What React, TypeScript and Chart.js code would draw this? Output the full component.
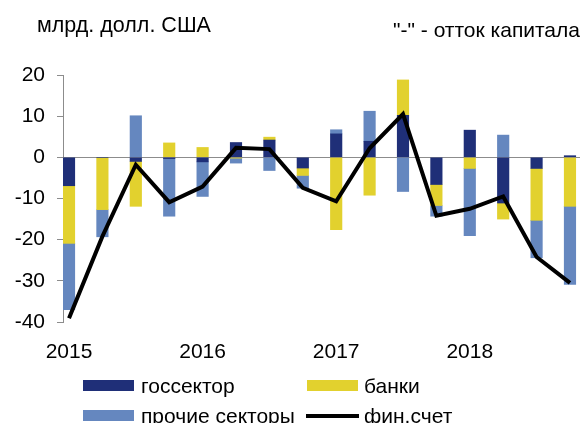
import React, { useEffect, useRef } from 'react';
import { Chart, registerables } from 'chart.js';

Chart.register(...registerables);

const quarters = [
  'I кв. 2015', 'II кв. 2015', 'III кв. 2015', 'IV кв. 2015',
  'I кв. 2016', 'II кв. 2016', 'III кв. 2016', 'IV кв. 2016',
  'I кв. 2017', 'II кв. 2017', 'III кв. 2017', 'IV кв. 2017',
  'I кв. 2018', 'II кв. 2018', 'III кв. 2018', 'IV кв. 2018',
];
const yearLabels = ['2015', '2016', '2017', '2018'];
const gosSector = [-6.9, 0, -1.0, -0.3, -1.1, 3.6, 4.2, -2.6, 5.7, 3.9, 10.2, -6.6, 6.6, -11.1, -2.7, 0.4];
const banks = [-14.0, -12.7, -10.9, 3.5, 2.4, -0.2, 0.7, -1.8, -17.6, -9.2, 8.6, -5.1, -2.7, -3.9, -12.6, -11.9];
const otherSectors = [-16.1, -6.6, 10.1, -14.0, -8.4, -1.2, -3.2, -3.1, 1.0, 7.3, -8.3, -2.6, -16.3, 5.4, -9.1, -19.0];
const finAccount = [-39.1, -19.2, -1.8, -10.9, -7.1, 2.3, 2.0, -7.4, -10.7, 2.2, 10.5, -14.2, -12.5, -9.5, -24.2, -30.5];
const yTicks = { min: -40, max: 20, step: 10 };

const FONT = "'Liberation Sans', Arial, sans-serif";
const FS = 21;
const COLORS = { gos: '#1F2F78', banks: '#E2D12E', other: '#6587BF', fin: '#000000', axis: '#8C8C8C' };

const toXY = (arr: number[]) => arr.map((v, i) => ({ x: i, y: v }));

export default function App() {
  const ref = useRef<HTMLCanvasElement | null>(null);

  useEffect(() => {
    if (!ref.current) return;
    const chart = new Chart(ref.current, {
      type: 'bar',
      data: {
        labels: quarters,
        datasets: [
          { label: 'госсектор', data: toXY(gosSector), backgroundColor: COLORS.gos, barThickness: 11.5, order: 1, stack: 's' } as any,
          { label: 'банки', data: toXY(banks), backgroundColor: COLORS.banks, barThickness: 11.5, order: 1, stack: 's' } as any,
          { label: 'прочие секторы', data: toXY(otherSectors), backgroundColor: COLORS.other, barThickness: 11.5, order: 1, stack: 's' } as any,
          {
            type: 'line', label: 'фин.счет', data: toXY(finAccount), borderColor: COLORS.fin, backgroundColor: COLORS.fin,
            borderWidth: 4, pointRadius: 0, tension: 0, yAxisID: 'y2', order: 0, borderJoinStyle: 'miter',
          } as any,
        ],
      },
      options: {
        animation: false,
        responsive: false,
        maintainAspectRatio: false,
        layout: { padding: { top: 75, left: 0, right: 6, bottom: 0 } },
        plugins: { legend: { display: false }, tooltip: { enabled: false }, title: { display: false } },
        scales: {
          x: {
            type: 'linear',
            stacked: true,
            offset: false,
            min: -0.18,
            max: 15.3,
            grid: { display: false, drawTicks: false, offset: false },
            border: { display: false },
            afterBuildTicks: (s: any) => { s.ticks = yearLabels.map((_, k) => ({ value: k * 4 })); },
            afterFit: (s: any) => { s.height = 423 - 322; },
            ticks: {
              autoSkip: false, maxRotation: 0, minRotation: 0, padding: 18, color: '#000',
              font: { family: FONT, size: FS },
              callback: (v: any) => yearLabels[Math.round(Number(v) / 4)] ?? '',
            },
          } as any,
          y: {
            stacked: true,
            min: yTicks.min,
            max: yTicks.max,
            afterFit: (s: any) => { s.width = 63; },
            ticks: { stepSize: yTicks.step, padding: 12, color: '#000', font: { family: FONT, size: FS } },
            grid: {
              color: (ctx: any) => (ctx.tick && ctx.tick.value === 0 ? COLORS.axis : 'rgba(0,0,0,0)'),
              tickColor: COLORS.axis,
              tickLength: 6,
              lineWidth: 1,
            },
            border: { color: COLORS.axis, width: 1 },
          } as any,
          y2: { display: false, min: yTicks.min, max: yTicks.max } as any,
        },
      },
    });
    return () => chart.destroy();
  }, []);

  const txt: React.CSSProperties = { position: 'absolute', fontFamily: FONT, fontSize: FS, lineHeight: `${FS}px`, color: '#000', whiteSpace: 'nowrap' };
  const sw: React.CSSProperties = { position: 'absolute', width: 51, height: 11 };

  return (
    <div style={{ position: 'fixed', left: 0, top: 0, width: 586, height: 423, overflow: 'hidden', background: '#fff' }}>
      <canvas ref={ref} width={586} height={423} style={{ display: 'block', width: 586, height: 423 }} />
      <div style={{ ...txt, left: 37, top: 15, fontSize: 21.5 }}>млрд. долл. США</div>
      <div style={{ ...txt, right: 6, top: 19 }}>"-" - отток капитала</div>
      <div style={{ ...sw, left: 83, top: 380, background: COLORS.gos }} />
      <div style={{ ...txt, left: 141, top: 375 }}>госсектор</div>
      <div style={{ ...sw, left: 307, top: 380, background: COLORS.banks }} />
      <div style={{ ...txt, left: 364, top: 375 }}>банки</div>
      <div style={{ ...sw, left: 83, top: 410, background: COLORS.other }} />
      <div style={{ ...txt, left: 141, top: 405 }}>прочие секторы</div>
      <div style={{ ...sw, left: 306, top: 414, height: 4, width: 53, background: COLORS.fin }} />
      <div style={{ ...txt, left: 364, top: 405 }}>фин.счет</div>
    </div>
  );
}
